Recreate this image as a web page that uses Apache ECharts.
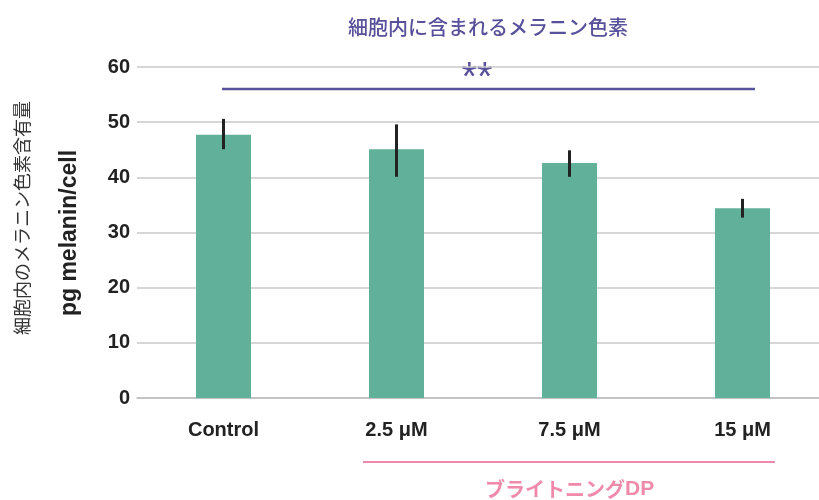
<!DOCTYPE html>
<html>
<head>
	<meta charset="utf-8">
	<title>melanin</title>
	<script src="https://cdn.jsdelivr.net/npm/echarts@6/dist/echarts.min.js"></script>
	<style>
		html, body { margin: 0; padding: 0; background: #fff; }
		#DIV1 { width: 819px; height: 500px; }
	</style>
</head>
<body>
	<div id="DIV1"></div>
	<script>
		// data
		const categories = ["Control", "2.5 μM", "7.5 μM", "15 μM"];
		const means = [47.7, 45.1, 42.6, 34.4];
		const errLow = [45.1, 40.1, 40.1, 32.7];
		const errHigh = [50.6, 49.6, 44.9, 36.1];
		const yTicks = [0, 60, 10];   // min, max, interval

		const latin = '"Liberation Sans", Arial, sans-serif';
		const jp = '"Noto Sans CJK JP", sans-serif';
		const purple = "#57509a";
		const pink = "#f08aab";

		const chart = echarts.init(document.getElementById("DIV1"));

		const errData = categories.map((c, i) => [i, errLow[i], errHigh[i]]);

		const option = {
			animation: false,
			grid: { left: 137, top: 67, width: 692, height: 331, outerBoundsMode: "none" },
			xAxis: {
				type: "category",
				data: categories,
				axisTick: { show: false },
				axisLine: { lineStyle: { color: "#bdbdbd", width: 1.5 } },
				axisLabel: { margin: 22, fontFamily: latin, fontWeight: "bold", fontSize: 20, color: "#222" }
			},
			yAxis: {
				type: "value",
				min: yTicks[0], max: yTicks[1], interval: yTicks[2],
				axisLine: { show: false },
				axisTick: { show: false },
				splitLine: { lineStyle: { color: "#c8c8c8", width: 1.5 } },
				axisLabel: { margin: 7, fontFamily: latin, fontWeight: "bold", fontSize: 20, color: "#222" }
			},
			series: [
				{
					type: "bar",
					data: means,
					barWidth: 55,
					itemStyle: { color: "#61b09a" }
				},
				{
					type: "custom",
					data: errData,
					z: 5,
					renderItem: function (params, api) {
						const lo = api.coord([api.value(0), api.value(1)]);
						const hi = api.coord([api.value(0), api.value(2)]);
						return {
							type: "line",
							shape: { x1: lo[0], y1: lo[1], x2: hi[0], y2: hi[1] },
							style: { stroke: "#222", lineWidth: 3 }
						};
					}
				}
			],
			graphic: [
				{
					type: "text", x: 488, y: 27,
					style: { text: "細胞内に含まれるメラニン色素", font: "500 20px " + jp, fill: purple, align: "center", verticalAlign: "middle" }
				},
				{ type: "line", shape: { x1: 222, y1: 89, x2: 755, y2: 89 }, style: { stroke: purple, lineWidth: 2.5 } },
				{
					type: "text", x: 477, y: 59,
					style: { text: "**", font: "40px " + latin, fill: purple, align: "center", verticalAlign: "top" }
				},
				{ type: "line", shape: { x1: 363, y1: 462, x2: 775, y2: 462 }, style: { stroke: pink, lineWidth: 2 } },
				{
					type: "text", x: 485, y: 489,
					style: {
						text: "{a|ブライトニング}{b|DP}",
						fill: pink,
						align: "left", verticalAlign: "middle",
						rich: {
							a: { fontFamily: jp, fontWeight: "bold", fontSize: 20, fill: pink },
							b: { fontFamily: latin, fontWeight: "bold", fontSize: 21, fill: pink }
						}
					}
				},
				{
					type: "text", x: 70, y: 233, rotation: Math.PI / 2,
					style: { text: "pg melanin/cell", font: "bold 23px " + latin, fill: "#222", align: "center", verticalAlign: "middle" }
				},
				{
					type: "text", x: 22, y: 218, rotation: Math.PI / 2,
					style: { text: "細胞内のメラニン色素含有量", font: "18px " + jp, fill: "#333", align: "center", verticalAlign: "middle" }
				}
			]
		};
		chart.setOption(option);
	</script>
</body>
</html>
